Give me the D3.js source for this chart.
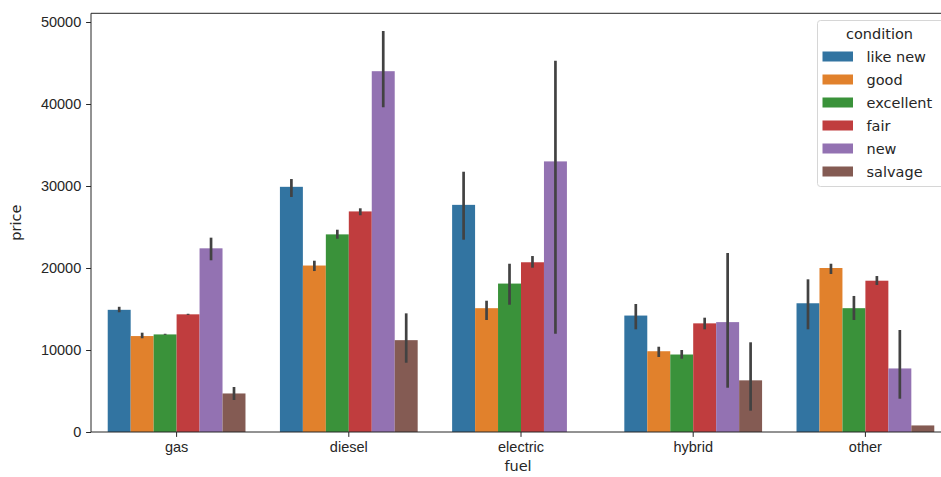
<!DOCTYPE html>
<html>
<head>
<meta charset="utf-8">
<script src="https://cdn.jsdelivr.net/npm/d3@7"></script>
<style>
  body { margin: 0; background: #fff; }
  svg { display: block; font-family: "DejaVu Sans", sans-serif; }
  .tick text { font-size: 14.5px; fill: #262626; }
</style>
</head>
<body>
<div id="chart"></div>
<script>
// categories and hue levels
const fuels = ["gas", "diesel", "electric", "hybrid", "other"];
const conditions = ["like new", "good", "excellent", "fair", "new", "salvage"];
const yTicks = [0, 10000, 20000, 30000, 40000, 50000];

// mean price per fuel, one array per condition (null = no bar)
const meanLikeNew   = [14900, 29900, 27700, 14200, 15700];
const meanGood      = [11700, 20300, 15100, 9850, 20000];
const meanExcellent = [11900, 24100, 18100, 9450, 15100];
const meanFair      = [14350, 26900, 20700, 13250, 18450];
const meanNew       = [22400, 44000, 33000, 13400, 7750];
const meanSalvage   = [4700, 11200, null, 6300, 800];

// confidence intervals [low, high] per fuel
const ciLikeNew   = [[14600, 15270], [28660, 30850], [23450, 31740], [12520, 15610], [12520, 18620]];
const ciGood      = [[11430, 12110], [19630, 20890], [13660, 16010], [9150, 10400], [19270, 20520]];
const ciExcellent = [[11850, 11980], [23570, 24670], [15520, 20520], [8940, 10000], [13660, 16590]];
const ciFair      = [[14280, 14420], [26430, 27280], [20040, 21460], [12520, 13940], [17930, 19020]];
const ciNew       = [[20940, 23700], [39600, 48900], [11990, 45280], [5400, 21830], [4060, 12440]];
const ciSalvage   = [[3900, 5490], [8450, 14470], null, [2600, 10940], [800, 800]];

const colors = ["#3274a1", "#e1812c", "#3a923a", "#c03d3e", "#9372b2", "#845b53"];

const means = [meanLikeNew, meanGood, meanExcellent, meanFair, meanNew, meanSalvage];
const cis = [ciLikeNew, ciGood, ciExcellent, ciFair, ciNew, ciSalvage];

// flatten into bar records
const bars = [];
conditions.forEach(function(c, ci) {
    fuels.forEach(function(f, fi) {
        if (means[ci][fi] == null) return;
        bars.push({ fuel: f, condition: c, value: means[ci][fi], ci: cis[ci][fi] });
    });
});

const W = 941, H = 477;
const plotLeft = 91, plotTop = 13.3, plotBottom = 432;
const fontSize = 14.5;

const svg = d3.select("#chart").append("svg")
    .attr("width", W)
    .attr("height", H);

// X scale: fuel bands, then hue sub-bands inside 80% of each band
const x = d3.scaleBand()
    .domain(fuels)
    .range([90.5, 951.5])
    .paddingInner(0)
    .paddingOuter(0);

const xHue = d3.scaleBand()
    .domain(conditions)
    .range([0, x.bandwidth() * 0.8]);

const y = d3.scaleLinear()
    .domain([0, 50000])
    .range([plotBottom, 22]);

function barX(d) {
    return x(d.fuel) + x.bandwidth() * 0.1 + xHue(d.condition);
}

// bars
svg.append("g")
    .selectAll("rect")
    .data(bars)
    .join("rect")
    .attr("x", barX)
    .attr("y", (d) => y(d.value))
    .attr("width", xHue.bandwidth())
    .attr("height", (d) => plotBottom - y(d.value))
    .attr("fill", (d) => colors[conditions.indexOf(d.condition)]);

// error bars
svg.append("g")
    .selectAll("line")
    .data(bars.filter((d) => d.ci))
    .join("line")
    .attr("x1", (d) => barX(d) + xHue.bandwidth() / 2)
    .attr("x2", (d) => barX(d) + xHue.bandwidth() / 2)
    .attr("y1", (d) => y(d.ci[0]))
    .attr("y2", (d) => y(d.ci[1]))
    .attr("stroke", "#424242")
    .attr("stroke-width", 2.7);

// axes
svg.append("g")
    .attr("transform", "translate(0," + plotBottom + ")")
    .call(d3.axisBottom(x).tickSize(4.9).tickSizeOuter(0).tickPadding(4.9))
    .call((g) => g.select(".domain").remove())
    .call((g) => g.selectAll(".tick line").attr("stroke", "#262626"));

svg.append("g")
    .attr("transform", "translate(" + plotLeft + ",0)")
    .call(d3.axisLeft(y).tickValues(yTicks).tickFormat(d3.format("d")).tickSize(4.9).tickPadding(4.9))
    .call((g) => g.select(".domain").remove())
    .call((g) => g.selectAll(".tick line").attr("stroke", "#262626"));

// spines
const spines = svg.append("g").attr("stroke", "#262626").attr("stroke-width", 1).attr("fill", "none");
spines.append("line").attr("x1", plotLeft).attr("x2", plotLeft).attr("y1", plotTop).attr("y2", plotBottom);
spines.append("line").attr("x1", plotLeft).attr("x2", W + 5).attr("y1", plotBottom).attr("y2", plotBottom);
spines.append("line").attr("x1", plotLeft).attr("x2", W + 5).attr("y1", plotTop).attr("y2", plotTop);

// axis labels
svg.append("text")
    .attr("x", 518)
    .attr("y", 471)
    .attr("text-anchor", "middle")
    .attr("font-size", fontSize)
    .attr("fill", "#262626")
    .text("fuel");

svg.append("text")
    .attr("transform", "translate(21," + (plotTop + plotBottom) / 2 + ") rotate(-90)")
    .attr("text-anchor", "middle")
    .attr("font-size", fontSize)
    .attr("fill", "#262626")
    .text("price");

// legend
const legend = svg.append("g").attr("transform", "translate(817.5,20.5)");
legend.append("rect")
    .attr("width", 130)
    .attr("height", 166)
    .attr("rx", 3)
    .attr("fill", "#fff")
    .attr("fill-opacity", 0.8)
    .attr("stroke", "#d6d6d6");

legend.append("text")
    .attr("x", 62)
    .attr("y", 13)
    .attr("dy", "0.35em")
    .attr("text-anchor", "middle")
    .attr("font-size", fontSize)
    .attr("fill", "#262626")
    .text("condition");

const items = legend.selectAll("g.item")
    .data(conditions)
    .join("g")
    .attr("class", "item")
    .attr("transform", (d, i) => "translate(0," + (36 + i * 23) + ")");

items.append("rect")
    .attr("x", 5)
    .attr("y", -5)
    .attr("width", 30.5)
    .attr("height", 10)
    .attr("fill", (d, i) => colors[i]);

items.append("text")
    .attr("x", 49)
    .attr("dy", "0.35em")
    .attr("font-size", fontSize)
    .attr("fill", "#262626")
    .text((d) => d);
</script>
</body>
</html>
